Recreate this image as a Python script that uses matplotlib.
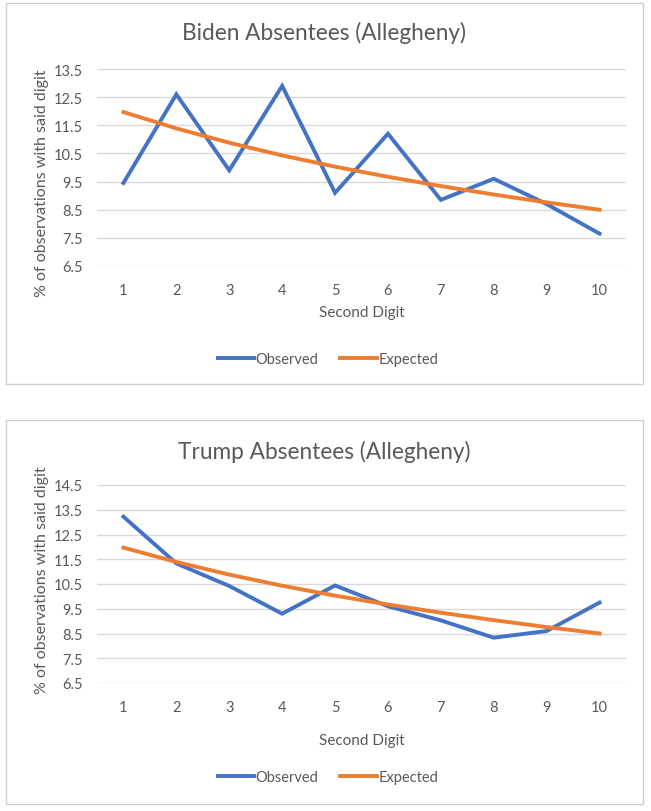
#!/usr/bin/env python3
import matplotlib
matplotlib.use("Agg")
import matplotlib.pyplot as plt
from matplotlib.patches import Rectangle

plt.rcParams['font.family'] = ['Lato', 'DejaVu Sans']

digits = ["1", "2", "3", "4", "5", "6", "7", "8", "9", "10"]
expected = [11.97, 11.39, 10.88, 10.43, 10.03, 9.67, 9.34, 9.04, 8.76, 8.50]
biden_observed = [9.45, 12.6, 9.9, 12.9, 9.1, 11.2, 8.85, 9.6, 8.7, 7.65]
trump_observed = [13.22, 11.33, 10.42, 9.3, 10.44, 9.6, 9.03, 8.33, 8.6, 9.75]

biden_ticks = [6.5, 7.5, 8.5, 9.5, 10.5, 11.5, 12.5, 13.5]
trump_ticks = [6.5, 7.5, 8.5, 9.5, 10.5, 11.5, 12.5, 13.5, 14.5]

BLUE = "#4472C4"
ORANGE = "#ED7D31"
GRAY = "#595959"
GRID = "#D9D9D9"

W, H = 651, 812
fig = plt.figure(figsize=(W / 100, H / 100), dpi=100)


def fx(px):
    return px / W


def fy(py):
    return (H - py) / H


def panel(box, plot, title, observed, ticks, title_y, xlab_y, leg_y, ylab_y):
    # box = (left, top, right, bottom) in pixels
    l, t, r, b = box
    fig.patches.append(Rectangle((fx(l), fy(b)), fx(r) - fx(l), fy(t) - fy(b),
                                 transform=fig.transFigure, fill=False,
                                 edgecolor="#D0D0D0", linewidth=1))
    pl, pt, pr, pb = plot
    ax = fig.add_axes([fx(pl), fy(pb), fx(pr) - fx(pl), fy(pt) - fy(pb)])
    x = list(range(len(digits)))
    ax.plot(x, observed, color=BLUE, linewidth=2.8, label="Observed",
            solid_joinstyle="miter", zorder=3)
    ax.plot(x, expected, color=ORANGE, linewidth=2.8, label="Expected", zorder=3)
    ax.set_xlim(-0.5, len(digits) - 0.5)
    ax.set_ylim(ticks[0], ticks[-1])
    ax.set_yticks(ticks)
    ax.set_yticklabels([f"{v:.1f}" for v in ticks])
    ax.set_xticks(x)
    ax.set_xticklabels(digits)
    ax.grid(axis="y", color=GRID, linewidth=1)
    ax.set_axisbelow(True)
    for s in ax.spines.values():
        s.set_visible(False)
    ax.tick_params(length=0, colors=GRAY, labelsize=10.5)
    ax.tick_params(axis="y", pad=10)
    ax.tick_params(axis="x", pad=12)
    fig.text(fx((l + r) / 2), fy(title_y), title, ha="center", va="center",
             fontsize=16.3, color=GRAY)
    fig.text(fx((pl + pr) / 2), fy(xlab_y), "Second Digit", ha="center",
             va="center", fontsize=11, color=GRAY)
    fig.text(fx(42), fy(ylab_y), "% of observations with said digit",
             ha="center", va="center", rotation=90, fontsize=11.5, color=GRAY)
    leg = fig.legend(*ax.get_legend_handles_labels(), loc="center",
                     bbox_to_anchor=(fx(328), fy(leg_y)), ncol=2,
                     frameon=False, fontsize=10.5, handlelength=2.5,
                     handletextpad=0.1, columnspacing=1.5)
    for txt in leg.get_texts():
        txt.set_color(GRAY)
    return ax


panel((6, 4, 643, 385), (97, 70, 626, 267), "Biden Absentees (Allegheny)",
      biden_observed, biden_ticks, 33, 313, 360, 183)
panel((6, 421, 643, 805), (97, 486, 626, 684), "Trump Absentees (Allegheny)",
      trump_observed, trump_ticks, 452, 741, 778, 580)

fig.savefig("out.png", dpi=100)
